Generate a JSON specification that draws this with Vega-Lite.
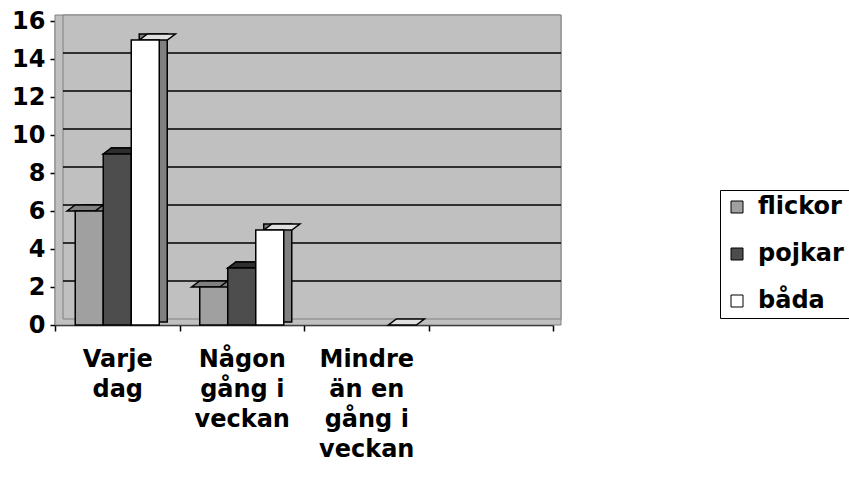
{
  "$schema": "https://vega.github.io/schema/vega-lite/v6.json",
  "width": 498,
  "height": 304,
  "autosize": {"type": "none"},
  "padding": {"left": 55, "top": 21, "right": 296, "bottom": 164},
  "background": "white",
  "view": {"stroke": null},
  "config": {
    "font": "DejaVu Sans",
    "axis": {"labelFont": "DejaVu Sans", "labelFontWeight": "bold", "labelFontSize": 24, "labelColor": "black", "domainColor": "black", "tickColor": "black", "domainWidth": 1.5, "tickWidth": 1.5, "grid": false},
    "axisY": {"values": [0, 2, 4, 6, 8, 10, 12, 14, 16], "tickSize": 5, "labelPadding": 5}
  },
  "datasets": {
    "main": [
      {"kategori": "Varje dag", "grupp": "flickor", "antal": 6},
      {"kategori": "Varje dag", "grupp": "pojkar", "antal": 9},
      {"kategori": "Varje dag", "grupp": "båda", "antal": 15},
      {"kategori": "Någon gång i veckan", "grupp": "flickor", "antal": 2},
      {"kategori": "Någon gång i veckan", "grupp": "pojkar", "antal": 3},
      {"kategori": "Någon gång i veckan", "grupp": "båda", "antal": 5},
      {"kategori": "Mindre än en gång i veckan", "grupp": "flickor", "antal": 0},
      {"kategori": "Mindre än en gång i veckan", "grupp": "pojkar", "antal": 0},
      {"kategori": "Mindre än en gång i veckan", "grupp": "båda", "antal": 0}
    ],
    "grid": [{"v": 2}, {"v": 4}, {"v": 6}, {"v": 8}, {"v": 10}, {"v": 12}, {"v": 14}],
    "wall": [{"top": 16, "bottom": 0}]
  },
  "layer": [
    {
      "data": {"name": "wall"},
      "mark": {"type": "rect", "fill": "#C0C0C0", "stroke": "#808080", "strokeWidth": 1, "yOffset": -6, "x2Offset": 8},
      "encoding": {
        "x": {"datum": 0, "type": "quantitative", "scale": {"domain": [0, 1], "nice": false, "zero": false}, "axis": null},
        "x2": {"datum": 1},
        "y": {"field": "top", "type": "quantitative", "scale": {"domain": [0, 16], "nice": false}, "axis": {"title": null}},
        "y2": {"field": "bottom"}
      }
    },
    {
      "data": {"name": "wall"},
      "mark": {"type": "rect", "fill": "#C0C0C0", "stroke": "#808080", "strokeWidth": 1, "yOffset": -6, "y2Offset": -6, "xOffset": 8, "x2Offset": 8},
      "encoding": {
        "x": {"datum": 0, "type": "quantitative", "scale": {"domain": [0, 1], "nice": false, "zero": false}, "axis": null},
        "x2": {"datum": 1},
        "y": {"field": "top", "type": "quantitative", "axis": {"title": null}},
        "y2": {"field": "bottom"}
      }
    },
    {
      "data": {"name": "grid"},
      "mark": {"type": "rule", "stroke": "black", "strokeWidth": 1.5, "yOffset": -6, "xOffset": 8, "x2Offset": 8},
      "encoding": {
        "x": {"datum": 0, "type": "quantitative", "scale": {"domain": [0, 1], "nice": false, "zero": false}, "axis": null},
        "x2": {"datum": 1},
        "y": {"field": "v", "type": "quantitative", "axis": {"title": null}}
      }
    },
    {
      "data": {"name": "main"},
      "transform": [{"filter": "datum.antal > 0"}],
      "mark": {"type": "bar", "yOffset": -6, "y2Offset": -3, "fill": "#808080", "stroke": "black", "strokeWidth": 1.5},
      "encoding": {
        "x": {"field": "kategori", "type": "nominal", "sort": null, "scale": {"domain": ["Varje dag", "Någon gång i veckan", "Mindre än en gång i veckan", ""], "paddingInner": 0, "paddingOuter": 0}, "axis": null},
        "xOffset": {"field": "grupp", "type": "nominal", "sort": null, "scale": {"domain": ["flickor", "pojkar", "båda"], "paddingInner": 0, "paddingOuter": 0.723, "align": 0.6975}},
        "y": {"field": "antal", "type": "quantitative", "axis": {"title": null}},
        "y2": {"datum": 0}
      }
    },
    {
      "data": {"name": "main"},
      "transform": [{"filter": "datum.antal > 0 || datum.grupp == 'båda'"}],
      "mark": {"type": "point", "shape": "M-0.5833,0L0.5833,0L0.9167,-0.25L-0.25,-0.25Z", "size": 2304, "filled": true, "opacity": 1, "stroke": "black", "strokeWidth": 1.5, "strokeOpacity": 1, "fillOpacity": 1},
      "encoding": {
        "x": {"field": "kategori", "type": "nominal", "sort": null, "scale": {"domain": ["Varje dag", "Någon gång i veckan", "Mindre än en gång i veckan", ""], "paddingInner": 0, "paddingOuter": 0}, "axis": null},
        "xOffset": {"field": "grupp", "type": "nominal", "sort": null, "scale": {"domain": ["flickor", "pojkar", "båda"], "paddingInner": 0, "paddingOuter": 0.723}},
        "y": {"field": "antal", "type": "quantitative", "axis": {"title": null}},
        "fill": {"field": "grupp", "type": "nominal", "legend": null, "scale": {"domain": ["flickor", "pojkar", "båda"], "range": ["#808080", "#2E2E2E", "#E0E0E0"]}}
      }
    },
    {
      "data": {"name": "main"},
      "transform": [{"filter": "datum.antal > 0"}],
      "mark": {"type": "bar", "stroke": "black", "strokeWidth": 1.5, "opacity": 1},
      "encoding": {
        "x": {
          "field": "kategori", "type": "nominal", "sort": null,
          "scale": {"domain": ["Varje dag", "Någon gång i veckan", "Mindre än en gång i veckan", ""], "paddingInner": 0, "paddingOuter": 0},
          "axis": {"title": null, "labelAngle": 0, "tickBand": "extent", "tickSize": 6, "labelPadding": 16, "labelLineHeight": 30, "labelBaseline": "top",
            "labelExpr": "datum.value == 'Varje dag' ? ['Varje', 'dag'] : datum.value == 'Någon gång i veckan' ? ['Någon', 'gång i', 'veckan'] : datum.value == 'Mindre än en gång i veckan' ? ['Mindre', 'än en', 'gång i', 'veckan'] : ''"}
        },
        "xOffset": {"field": "grupp", "type": "nominal", "sort": null, "scale": {"domain": ["flickor", "pojkar", "båda"], "paddingInner": 0, "paddingOuter": 0.723}},
        "y": {"field": "antal", "type": "quantitative", "axis": {"title": null}},
        "y2": {"datum": 0},
        "color": {
          "field": "grupp", "type": "nominal",
          "scale": {"domain": ["flickor", "pojkar", "båda"], "range": ["#A0A0A0", "#4D4D4D", "#FFFFFF"]},
          "legend": {"title": null, "orient": "none", "legendX": 665, "legendY": 169, "direction": "vertical", "symbolType": "square", "symbolSize": 144, "symbolStrokeColor": "black", "symbolStrokeWidth": 1, "symbolOpacity": 1, "labelFont": "DejaVu Sans", "labelFontWeight": "bold", "labelFontSize": 24, "labelColor": "black", "labelOffset": 9, "rowPadding": 23, "padding": 5, "strokeColor": "black", "fillColor": "white", "labelLimit": 300}
        }
      }
    }
  ],
  "resolve": {"scale": {"x": "independent", "xOffset": "independent", "fill": "independent"}}
}
